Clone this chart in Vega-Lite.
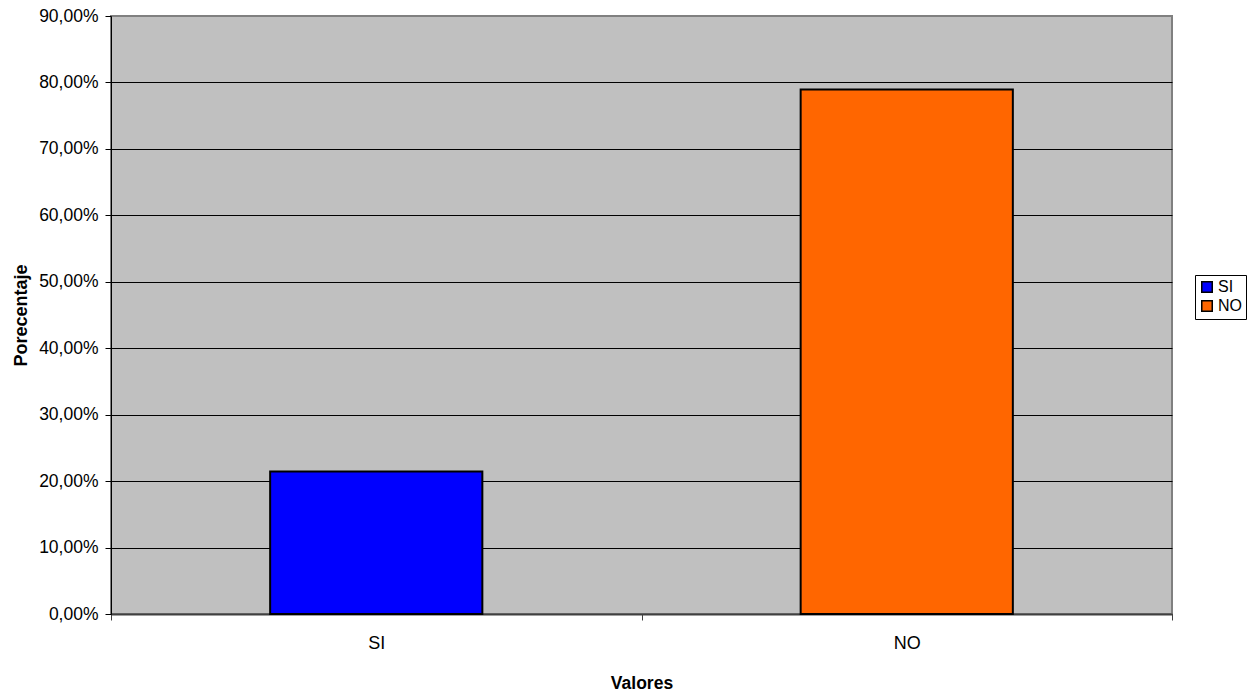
{
  "$schema": "https://vega.github.io/schema/vega-lite/v6.json",
  "autosize": "none",
  "padding": {"left": 111, "top": 16, "right": 88, "bottom": 81},
  "width": 1061,
  "height": 598,
  "background": "white",
  "config": {
    "locale": {"number": {"decimal": ",", "thousands": ".", "grouping": [3], "currency": ["", " €"]}},
    "font": "Liberation Sans",
    "view": {"fill": "#C0C0C0", "stroke": "#808080", "strokeWidth": 2}
  },
  "data": {
    "values": [
      {"Valores": "SI", "Porcentaje": 0.2145},
      {"Valores": "NO", "Porcentaje": 0.7895}
    ]
  },
  "mark": {"type": "bar", "stroke": "black", "strokeWidth": 2, "width": {"band": 0.4}},
  "encoding": {
    "x": {
      "field": "Valores",
      "type": "nominal",
      "sort": ["SI", "NO"],
      "scale": {"paddingInner": 0, "paddingOuter": 0},
      "axis": {
        "title": "Valores",
        "titleFont": "Liberation Sans",
        "titleFontSize": 17.5,
        "titleFontWeight": "bold",
        "titleColor": "black",
        "titleX": 530.5,
        "titleY": 69,
        "titleAlign": "center",
        "titleBaseline": "middle",
        "labelAngle": 0,
        "labelFontSize": 18,
        "labelColor": "black",
        "labelBaseline": "middle",
        "labelPadding": 23,
        "tickBand": "extent",
        "tickSize": 6,
        "tickColor": "#404040",
        "domainColor": "#404040",
        "domainWidth": 2,
        "grid": false
      }
    },
    "y": {
      "field": "Porcentaje",
      "type": "quantitative",
      "scale": {"domain": [0, 0.9], "nice": false},
      "axis": {
        "title": "Porecentaje",
        "titleFont": "Liberation Sans",
        "titleFontSize": 18,
        "titleFontWeight": "bold",
        "titleColor": "black",
        "titleX": -90,
        "titleY": 299,
        "titleAngle": -90,
        "titleAlign": "center",
        "titleBaseline": "middle",
        "format": ".2%",
        "values": [0, 0.1, 0.2, 0.3, 0.4, 0.5, 0.6, 0.7, 0.8, 0.9],
        "labelFontSize": 17.5,
        "labelColor": "black",
        "labelPadding": 7,
        "tickSize": 6,
        "tickColor": "black",
        "domainColor": "black",
        "grid": true,
        "gridColor": {"condition": {"test": "datum.value >= 0.9", "value": "#808080"}, "value": "black"},
        "gridWidth": 1
      }
    },
    "color": {
      "field": "Valores",
      "type": "nominal",
      "sort": ["SI", "NO"],
      "scale": {"domain": ["SI", "NO"], "range": ["#0000FF", "#FF6600"]},
      "legend": {
        "title": null,
        "orient": "none",
        "legendX": 1084,
        "legendY": 259,
        "symbolType": "square",
        "symbolSize": 110,
        "symbolStrokeColor": "black",
        "symbolStrokeWidth": 1.5,
        "labelFontSize": 16,
        "labelColor": "black",
        "labelOffset": 3,
        "rowPadding": 1,
        "padding": 4,
        "strokeColor": "black",
        "fillColor": "white"
      }
    }
  }
}
